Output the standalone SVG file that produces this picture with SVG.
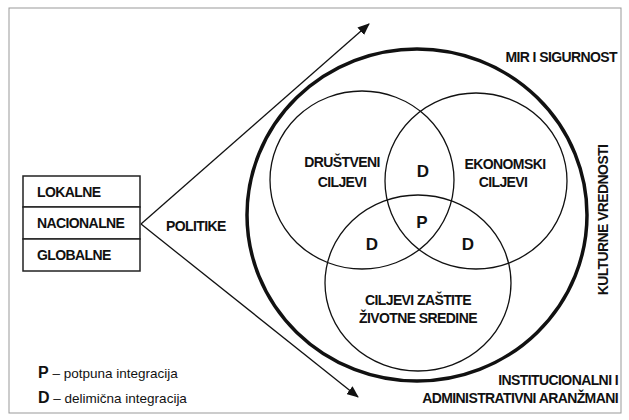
<svg xmlns="http://www.w3.org/2000/svg" width="629" height="420" viewBox="0 0 629 420">
<style>
.b{font-family:"Liberation Sans",Arial,sans-serif;font-weight:bold;font-size:14px;letter-spacing:-0.6px;fill:#111}
.m{text-anchor:middle}
.e{text-anchor:end}
.big{font-family:"Liberation Sans",Arial,sans-serif;font-weight:bold;font-size:17px;fill:#111;text-anchor:middle}
.leg{font-family:"Liberation Sans",Arial,sans-serif;font-size:13.5px;fill:#111}
.thin{fill:none;stroke:#111;stroke-width:1.3}
.cell{fill:#fff;stroke:#222;stroke-width:1.5}
</style>
<defs>
<marker id="ah" viewBox="0 0 12 10" refX="11" refY="5" markerWidth="12" markerHeight="10" markerUnits="userSpaceOnUse" orient="auto">
<path d="M0,0 L12,5 L0,10 Z" fill="#111"/>
</marker>
</defs>
<rect x="0" y="0" width="629" height="420" fill="#fff"/>
<rect x="9" y="8" width="612" height="405" fill="none" stroke="#999" stroke-width="1"/>

<g id="connectors">
<line class="thin" x1="141" y1="224" x2="369" y2="24" marker-end="url(#ah)"/>
<line class="thin" x1="141" y1="224" x2="358" y2="397" marker-end="url(#ah)"/>
</g>

<g id="policy-levels">
<rect class="cell" x="23" y="176" width="117" height="31"/>
<rect class="cell" x="23" y="207" width="117" height="32"/>
<rect class="cell" x="23" y="239" width="117" height="32"/>
<text class="b" x="37" y="197">LOKALNE</text>
<text class="b" x="37" y="228">NACIONALNE</text>
<text class="b" x="37" y="260">GLOBALNE</text>
</g>

<g id="politike">
<text class="b" x="166" y="231">POLITIKE</text>
</g>

<g id="outer-frame">
<ellipse cx="417" cy="215" rx="170" ry="166" fill="none" stroke="#111" stroke-width="3.5"/>
</g>

<g id="drustveni">
<ellipse class="thin" cx="362" cy="180" rx="92" ry="89"/>
<text class="b m" x="342" y="167">DRUŠTVENI</text>
<text class="b m" x="342" y="187">CILJEVI</text>
</g>

<g id="ekonomski">
<ellipse class="thin" cx="476" cy="181" rx="91" ry="88"/>
<text class="b m" x="505" y="169">EKONOMSKI</text>
<text class="b m" x="503" y="187">CILJEVI</text>
</g>

<g id="zastita">
<ellipse class="thin" cx="418" cy="283" rx="93" ry="88"/>
<text class="b m" x="418" y="305">CILJEVI ZAŠTITE</text>
<text class="b m" x="418" y="323">ŽIVOTNE SREDINE</text>
</g>

<g id="intersections">
<text class="big" x="423" y="177">D</text>
<text class="big" x="422" y="228">P</text>
<text class="big" x="372" y="250">D</text>
<text class="big" x="468" y="250">D</text>
</g>

<g id="mir">
<text class="b e" x="617" y="62">MIR I SIGURNOST</text>
</g>

<g id="kulturne">
<text class="b m" transform="translate(608,220) rotate(-90)" x="0" y="0">KULTURNE VREDNOSTI</text>
</g>

<g id="institucionalni">
<text class="b e" x="618" y="385">INSTITUCIONALNI I</text>
<text class="b e" x="618" y="403">ADMINISTRATIVNI ARANŽMANI</text>
</g>

<g id="legend">
<text class="leg" x="38" y="378"><tspan font-weight="bold" font-size="16">P</tspan> – potpuna integracija</text>
<text class="leg" x="38" y="403"><tspan font-weight="bold" font-size="16">D</tspan> – delimična integracija</text>
</g>
</svg>
